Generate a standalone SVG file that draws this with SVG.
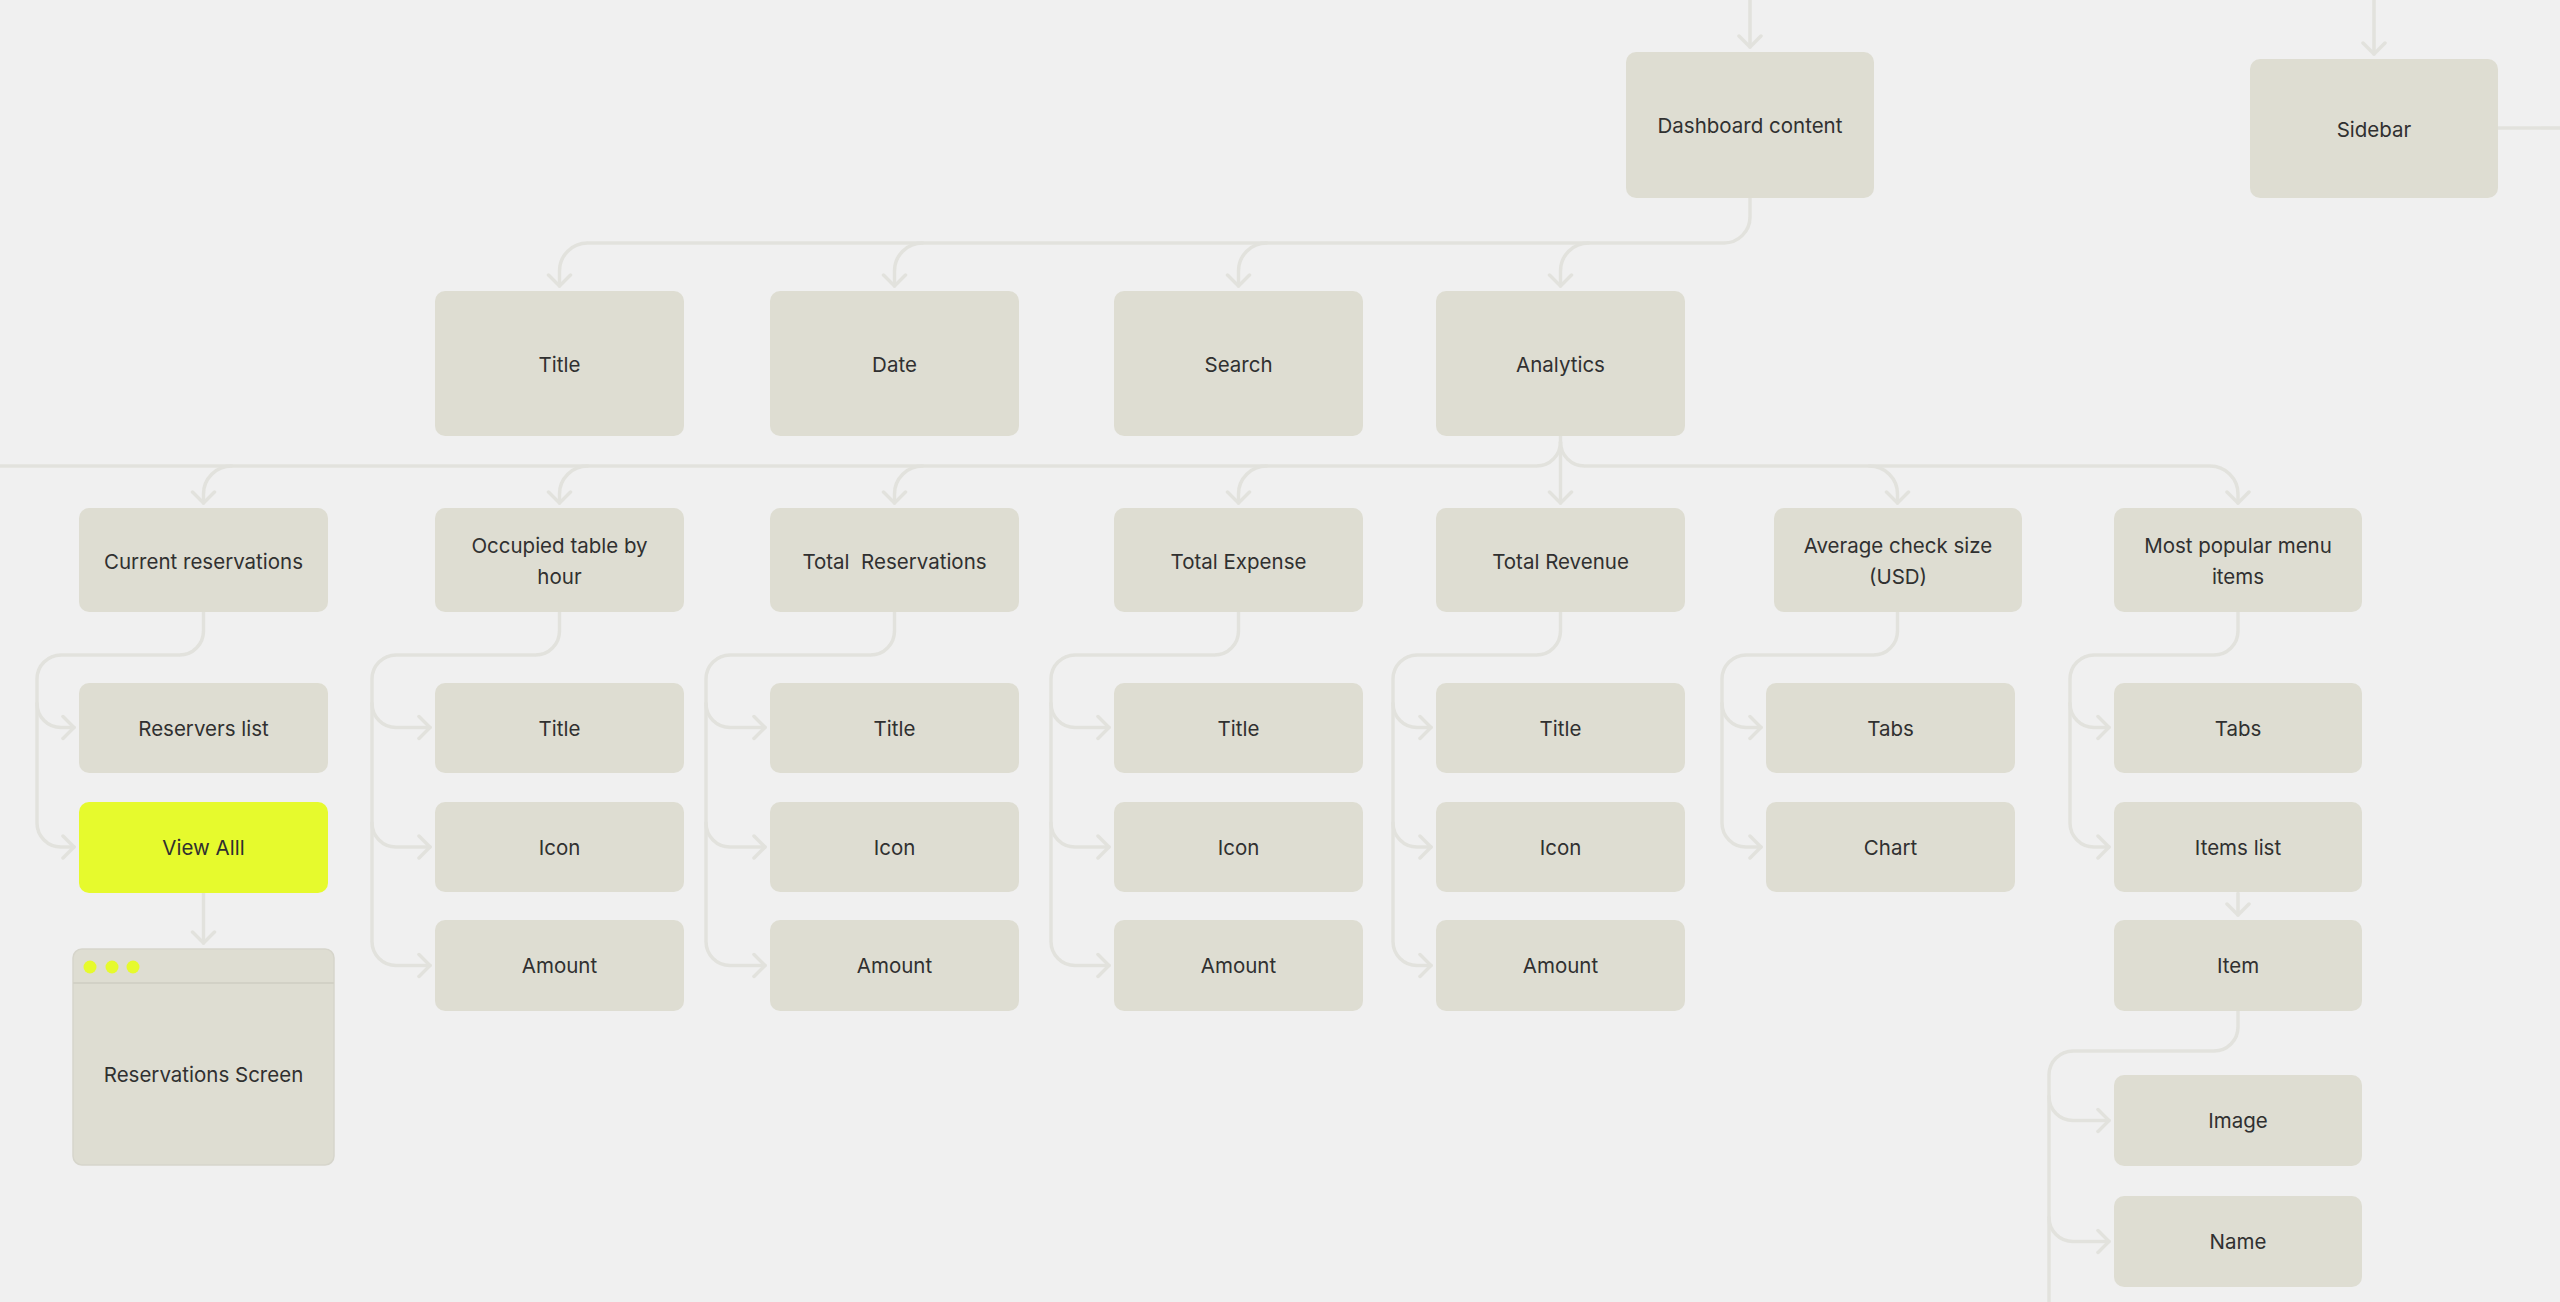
<svg xmlns="http://www.w3.org/2000/svg" width="2560" height="1302" viewBox="0 0 2560 1302">
<style>
.bg{fill:#f0f0f0}
.box{fill:#deddd2}
.hl{fill:#e6fa2d}
.t{font-family:Inter,"Liberation Sans",Arial,sans-serif;font-size:20.5px;font-weight:400;fill:#303030;text-anchor:middle;dominant-baseline:central}
.c{fill:none;stroke:#e2e2dd;stroke-width:3.5;stroke-linecap:round;stroke-linejoin:round}
.a{marker-end:url(#arr)}
</style>
<defs>
<marker id="arr" markerUnits="userSpaceOnUse" viewBox="-14 -14 16 28" refX="0" refY="0" markerWidth="16" markerHeight="28" orient="auto">
<path d="M-11,-11 L0,0 L-11,11" fill="none" stroke="#e2e2dd" stroke-width="3.5" stroke-linecap="round" stroke-linejoin="round"/>
</marker>
</defs>
<rect class="bg" x="0" y="0" width="2560" height="1302"/>
<g id="connectors">
<path class="c a" d="M1750,0 L1750,47"/>
<path class="c a" d="M2374,0 L2374,54"/>
<path class="c" d="M2498,128 L2560,128"/>
<path class="c a" d="M1750,198 L1750,217 A26 26 0 0 1 1724,243 L587.5,243 A28 28 0 0 0 559.5,271 L559.5,286"/>
<path class="c a" d="M922.5,243 A28 28 0 0 0 894.5,271 L894.5,286"/>
<path class="c a" d="M1266.5,243 A28 28 0 0 0 1238.5,271 L1238.5,286"/>
<path class="c a" d="M1588.5,243 A28 28 0 0 0 1560.5,271 L1560.5,286"/>
<path class="c a" d="M1560.5,436 L1560.5,503"/>
<path class="c" d="M1560.5,442 A24 24 0 0 1 1536.5,466 L0,466"/>
<path class="c a" d="M1560.5,442 A24 24 0 0 0 1584.5,466 L2210,466 A28 28 0 0 1 2238,494 L2238,503"/>
<path class="c a" d="M231.5,466 A28 28 0 0 0 203.5,494 L203.5,503"/>
<path class="c a" d="M587.5,466 A28 28 0 0 0 559.5,494 L559.5,503"/>
<path class="c a" d="M922.5,466 A28 28 0 0 0 894.5,494 L894.5,503"/>
<path class="c a" d="M1266.5,466 A28 28 0 0 0 1238.5,494 L1238.5,503"/>
<path class="c a" d="M1869.5,466 A28 28 0 0 1 1897.5,494 L1897.5,503"/>
<!-- Current reservations -->
<path class="c a" d="M203.5,612 L203.5,631 A24 24 0 0 1 179.5,655 L61,655 A24 24 0 0 0 37,679 L37,823 A24 24 0 0 0 61,847 L74,847"/>
<path class="c a" d="M37,703.5 A24 24 0 0 0 61,727.5 L74,727.5"/>
<path class="c a" d="M203.5,893 L203.5,943"/>
<!-- Occupied -->
<path class="c a" d="M559.5,612 L559.5,631 A24 24 0 0 1 535.5,655 L396,655 A24 24 0 0 0 372,679 L372,941.5 A24 24 0 0 0 396,965.5 L430,965.5"/>
<path class="c a" d="M372,703.5 A24 24 0 0 0 396,727.5 L430,727.5"/>
<path class="c a" d="M372,823 A24 24 0 0 0 396,847 L430,847"/>
<!-- Total Reservations -->
<path class="c a" d="M894.5,612 L894.5,631 A24 24 0 0 1 870.5,655 L730,655 A24 24 0 0 0 706,679 L706,941.5 A24 24 0 0 0 730,965.5 L765,965.5"/>
<path class="c a" d="M706,703.5 A24 24 0 0 0 730,727.5 L765,727.5"/>
<path class="c a" d="M706,823 A24 24 0 0 0 730,847 L765,847"/>
<!-- Total Expense -->
<path class="c a" d="M1238.5,612 L1238.5,631 A24 24 0 0 1 1214.5,655 L1075,655 A24 24 0 0 0 1051,679 L1051,941.5 A24 24 0 0 0 1075,965.5 L1109,965.5"/>
<path class="c a" d="M1051,703.5 A24 24 0 0 0 1075,727.5 L1109,727.5"/>
<path class="c a" d="M1051,823 A24 24 0 0 0 1075,847 L1109,847"/>
<!-- Total Revenue -->
<path class="c a" d="M1560.5,612 L1560.5,631 A24 24 0 0 1 1536.5,655 L1417,655 A24 24 0 0 0 1393,679 L1393,941.5 A24 24 0 0 0 1417,965.5 L1431,965.5"/>
<path class="c a" d="M1393,703.5 A24 24 0 0 0 1417,727.5 L1431,727.5"/>
<path class="c a" d="M1393,823 A24 24 0 0 0 1417,847 L1431,847"/>
<!-- Average check -->
<path class="c a" d="M1897.5,612 L1897.5,631 A24 24 0 0 1 1873.5,655 L1746,655 A24 24 0 0 0 1722,679 L1722,823 A24 24 0 0 0 1746,847 L1761,847"/>
<path class="c a" d="M1722,703.5 A24 24 0 0 0 1746,727.5 L1761,727.5"/>
<!-- Most popular -->
<path class="c a" d="M2238,612 L2238,631 A24 24 0 0 1 2214,655 L2094,655 A24 24 0 0 0 2070,679 L2070,823 A24 24 0 0 0 2094,847 L2109,847"/>
<path class="c a" d="M2070,703.5 A24 24 0 0 0 2094,727.5 L2109,727.5"/>
<path class="c a" d="M2238,893 L2238,915"/>
<!-- Item -->
<path class="c" d="M2238,1011 L2238,1027 A24 24 0 0 1 2214,1051 L2073,1051 A24 24 0 0 0 2049,1075 L2049,1302"/>
<path class="c a" d="M2049,1096.5 A24 24 0 0 0 2073,1120.5 L2109,1120.5"/>
<path class="c a" d="M2049,1217.5 A24 24 0 0 0 2073,1241.5 L2109,1241.5"/>
</g>
<g id="n-dashboard"><rect class="box" x="1626" y="52" width="248" height="146" rx="10"/><text class="t" x="1750" y="125">Dashboard content</text></g>
<g id="n-sidebar"><rect class="box" x="2250" y="59" width="248" height="139" rx="10"/><text class="t" x="2374" y="129">Sidebar</text></g>
<g id="n-title"><rect class="box" x="435" y="291" width="249" height="145" rx="10"/><text class="t" x="559.5" y="364">Title</text></g>
<g id="n-date"><rect class="box" x="770" y="291" width="249" height="145" rx="10"/><text class="t" x="894.5" y="364">Date</text></g>
<g id="n-search"><rect class="box" x="1114" y="291" width="249" height="145" rx="10"/><text class="t" x="1238.5" y="364">Search</text></g>
<g id="n-analytics"><rect class="box" x="1436" y="291" width="249" height="145" rx="10"/><text class="t" x="1560.5" y="364">Analytics</text></g>
<g id="n-current"><rect class="box" x="79" y="508" width="249" height="104" rx="10"/><text class="t" x="203.5" y="561">Current reservations</text></g>
<g id="n-occupied"><rect class="box" x="435" y="508" width="249" height="104" rx="10"/><text class="t" x="559.5" y="545">Occupied table by</text><text class="t" x="559.5" y="576">hour</text></g>
<g id="n-totalres"><rect class="box" x="770" y="508" width="249" height="104" rx="10"/><text class="t" x="894.5" y="561" xml:space="preserve">Total  Reservations</text></g>
<g id="n-totalexp"><rect class="box" x="1114" y="508" width="249" height="104" rx="10"/><text class="t" x="1238.5" y="561">Total Expense</text></g>
<g id="n-totalrev"><rect class="box" x="1436" y="508" width="249" height="104" rx="10"/><text class="t" x="1560.5" y="561">Total Revenue</text></g>
<g id="n-avg"><rect class="box" x="1774" y="508" width="248" height="104" rx="10"/><text class="t" x="1898" y="545">Average check size</text><text class="t" x="1898" y="576">(USD)</text></g>
<g id="n-popular"><rect class="box" x="2114" y="508" width="248" height="104" rx="10"/><text class="t" x="2238" y="545">Most popular menu</text><text class="t" x="2238" y="576">items</text></g>
<g id="n-reservers"><rect class="box" x="79" y="683" width="249" height="90" rx="10"/><text class="t" x="203.5" y="728">Reservers list</text></g>
<g id="n-viewall"><rect class="hl" x="79" y="802" width="249" height="91" rx="10"/><text class="t" x="203.5" y="847">View Alll</text></g>
<g id="n-resscreen"><rect class="box" x="73" y="949" width="261" height="216" rx="9" stroke="#d6d5cb" stroke-width="1.5"/><line x1="73" y1="983" x2="334" y2="983" stroke="#d2d1c6" stroke-width="2"/><circle cx="90" cy="967" r="6.5" fill="#e6fa2d"/><circle cx="112" cy="967" r="6.5" fill="#e6fa2d"/><circle cx="133" cy="967" r="6.5" fill="#e6fa2d"/><text class="t" x="203.5" y="1074">Reservations Screen</text></g>
<g id="n-occ-title"><rect class="box" x="435" y="683" width="249" height="90" rx="10"/><text class="t" x="559.5" y="728">Title</text></g>
<g id="n-occ-icon"><rect class="box" x="435" y="802" width="249" height="90" rx="10"/><text class="t" x="559.5" y="847">Icon</text></g>
<g id="n-occ-amount"><rect class="box" x="435" y="920" width="249" height="91" rx="10"/><text class="t" x="559.5" y="965.5">Amount</text></g>
<g id="n-tr-title"><rect class="box" x="770" y="683" width="249" height="90" rx="10"/><text class="t" x="894.5" y="728">Title</text></g>
<g id="n-tr-icon"><rect class="box" x="770" y="802" width="249" height="90" rx="10"/><text class="t" x="894.5" y="847">Icon</text></g>
<g id="n-tr-amount"><rect class="box" x="770" y="920" width="249" height="91" rx="10"/><text class="t" x="894.5" y="965.5">Amount</text></g>
<g id="n-te-title"><rect class="box" x="1114" y="683" width="249" height="90" rx="10"/><text class="t" x="1238.5" y="728">Title</text></g>
<g id="n-te-icon"><rect class="box" x="1114" y="802" width="249" height="90" rx="10"/><text class="t" x="1238.5" y="847">Icon</text></g>
<g id="n-te-amount"><rect class="box" x="1114" y="920" width="249" height="91" rx="10"/><text class="t" x="1238.5" y="965.5">Amount</text></g>
<g id="n-rv-title"><rect class="box" x="1436" y="683" width="249" height="90" rx="10"/><text class="t" x="1560.5" y="728">Title</text></g>
<g id="n-rv-icon"><rect class="box" x="1436" y="802" width="249" height="90" rx="10"/><text class="t" x="1560.5" y="847">Icon</text></g>
<g id="n-rv-amount"><rect class="box" x="1436" y="920" width="249" height="91" rx="10"/><text class="t" x="1560.5" y="965.5">Amount</text></g>
<g id="n-avg-tabs"><rect class="box" x="1766" y="683" width="249" height="90" rx="10"/><text class="t" x="1890.5" y="728">Tabs</text></g>
<g id="n-avg-chart"><rect class="box" x="1766" y="802" width="249" height="90" rx="10"/><text class="t" x="1890.5" y="847">Chart</text></g>
<g id="n-mp-tabs"><rect class="box" x="2114" y="683" width="248" height="90" rx="10"/><text class="t" x="2238" y="728">Tabs</text></g>
<g id="n-mp-items"><rect class="box" x="2114" y="802" width="248" height="90" rx="10"/><text class="t" x="2238" y="847">Items list</text></g>
<g id="n-item"><rect class="box" x="2114" y="920" width="248" height="91" rx="10"/><text class="t" x="2238" y="965.5">Item</text></g>
<g id="n-image"><rect class="box" x="2114" y="1075" width="248" height="91" rx="10"/><text class="t" x="2238" y="1120.5">Image</text></g>
<g id="n-name"><rect class="box" x="2114" y="1196" width="248" height="91" rx="10"/><text class="t" x="2238" y="1241.5">Name</text></g>
</svg>
